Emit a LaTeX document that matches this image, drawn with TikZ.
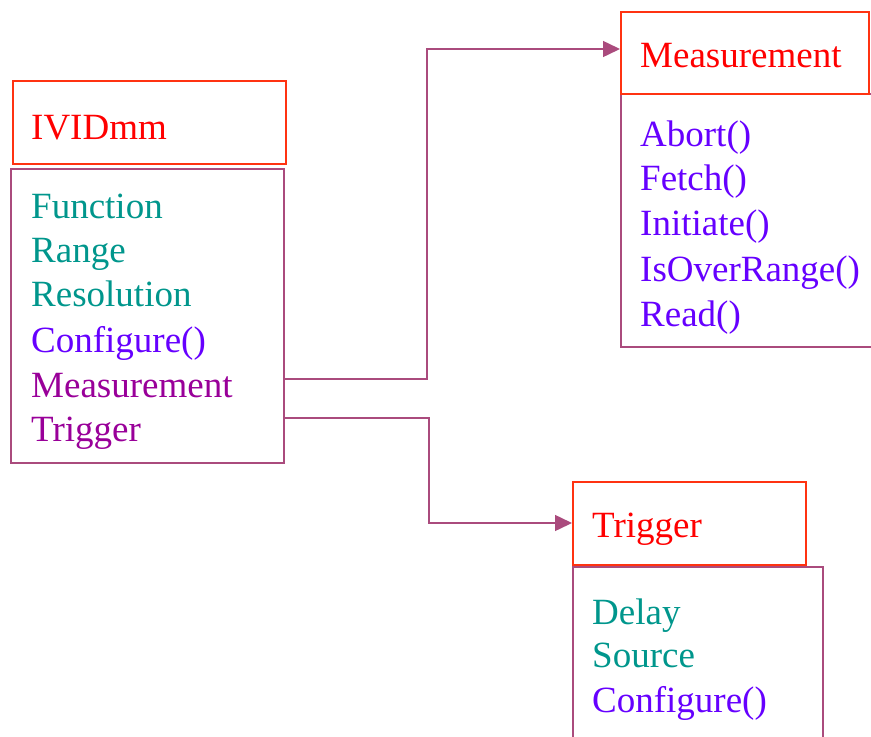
\documentclass[tikz,border=0pt]{standalone}
\usepackage{fontspec}
\setmainfont{Liberation Serif}
\usetikzlibrary{arrows.meta}
\definecolor{hdrred}{RGB}{255,51,17}
\definecolor{txtred}{RGB}{255,0,0}
\definecolor{boxpur}{RGB}{170,75,125}
\definecolor{teal}{RGB}{0,150,140}
\definecolor{violet}{RGB}{102,0,255}
\definecolor{plum}{RGB}{153,0,153}
\begin{document}
\begin{tikzpicture}[x=1pt,y=-1pt,
  hdr/.style={draw=hdrred,line width=1.5pt,rectangle,anchor=north west,inner sep=0pt},
  bodybox/.style={draw=boxpur,line width=1.5pt,rectangle,anchor=north west,inner sep=0pt},
  lbl/.style={anchor=base west,inner sep=0pt,font=\fontsize{37}{44}\selectfont},
  conn/.style={draw=boxpur,line width=1.5pt,-{Triangle[length=17pt,width=16pt]}}]
\useasboundingbox (0,0) rectangle (871,737);
% IVIDmm
\node[hdr,minimum width=273pt,minimum height=83pt] (ivh) at (12,80) {};
\node[bodybox,minimum width=273pt,minimum height=294pt] (ivb) at (10,168) {};
\node[lbl,text=txtred] (ivt) at (31,139) {IVIDmm};
\node[lbl,text=teal] (iv1) at (31,218) {Function};
\node[lbl,text=teal] (iv2) at (31,262) {Range};
\node[lbl,text=teal] (iv3) at (31,306) {Resolution};
\node[lbl,text=violet] (iv4) at (31,352) {Configure()};
\node[lbl,text=plum] (iv5) at (31,397) {Measurement};
\node[lbl,text=plum] (iv6) at (31,441) {Trigger};
% Measurement
\node[bodybox,minimum width=270pt,minimum height=253pt] (mb) at (620,93) {};
\node[hdr,minimum width=248pt,minimum height=82pt] (mh) at (620,11) {};
\node[lbl,text=txtred] (mt) at (640,67) {Measurement};
\node[lbl,text=violet] (m1) at (640,146) {Abort()};
\node[lbl,text=violet] (m2) at (640,190) {Fetch()};
\node[lbl,text=violet] (m3) at (640,235) {Initiate()};
\node[lbl,text=violet] (m4) at (640,281) {IsOverRange()};
\node[lbl,text=violet] (m5) at (640,326) {Read()};
% Trigger
\node[bodybox,minimum width=250pt,minimum height=200pt] (tb) at (572,566) {};
\node[hdr,minimum width=233pt,minimum height=83pt] (th) at (572,481) {};
\node[lbl,text=txtred] (tt) at (592,537) {Trigger};
\node[lbl,text=teal] (t1) at (592,624) {Delay};
\node[lbl,text=teal] (t2) at (592,667) {Source};
\node[lbl,text=violet] (t3) at (592,712) {Configure()};
% connectors
\coordinate (s1) at (ivb.east |- 0,379);
\coordinate (s2) at (ivb.east |- 0,418);
\draw[conn] (s1) -- (427,379) |- (mh.west |- 0,49);
\draw[conn] (s2) -- (429,418) |- (th.west |- 0,523);
\end{tikzpicture}
\end{document}
